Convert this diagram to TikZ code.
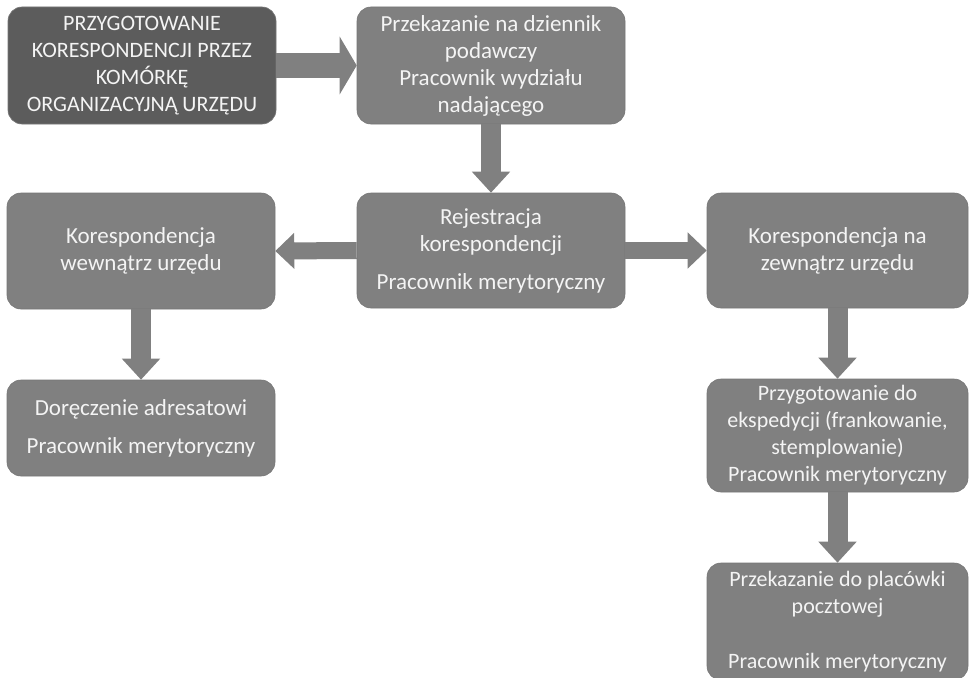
\documentclass[tikz,border=0pt]{standalone}
\usepackage{fontspec}
\setmainfont{Carlito}
\usetikzlibrary{arrows.meta}
\definecolor{boxgray}{HTML}{808080}
\definecolor{darkbox}{HTML}{5C5C5C}
\definecolor{edgegray}{HTML}{767676}
\definecolor{txt}{HTML}{F4F4F4}
\begin{document}
\begin{tikzpicture}[x=1pt,y=-1pt,
  box/.style={rectangle, rounded corners=14pt, fill=boxgray, draw=edgegray, line width=0.6pt,
    text=txt, align=center, inner sep=0pt,
    font=\fontsize{23}{27}\selectfont},
  smalltext/.style={font=\fontsize{22}{27}\selectfont},
  bigarr/.style={draw=boxgray, line width=25pt, -{Triangle[width=57pt,length=17pt]}},
  varr/.style={draw=boxgray, line width=20pt, -{Triangle[width=37pt,length=21pt]}},
  harr/.style={draw=boxgray, line width=17pt, -{Triangle[width=35pt,length=19pt]}}
]
\useasboundingbox (0,0) rectangle (971,677);
\fill[white] (0,0) rectangle (971,677);

\node[box, smalltext, fill=darkbox, minimum width=268pt, minimum height=117pt] (b1) at (142,65.5)
  {PRZYGOTOWANIE\\KORESPONDENCJI PRZEZ\\KOMÓRKĘ\\ORGANIZACYJNĄ URZĘDU};
\node[box, minimum width=268pt, minimum height=117pt] (b2) at (491,65.5)
  {Przekazanie na dziennik\\podawczy\\Pracownik wydziału\\nadającego};
\node[box, minimum width=268pt, minimum height=115pt] (b3) at (491,250.5)
  {Rejestracja\\korespondencji\\[11pt]Pracownik merytoryczny};
\node[box, minimum width=268pt, minimum height=116pt] (b4) at (141,251)
  {Korespondencja\\wewnątrz urzędu};
\node[box, minimum width=268pt, minimum height=96pt] (b5) at (141,428)
  {Doręczenie adresatowi\\[11pt]Pracownik merytoryczny};
\node[box, minimum width=261pt, minimum height=115pt] (b6) at (837.5,250.5)
  {Korespondencja na\\zewnątrz urzędu};
\node[box, smalltext, minimum width=261pt, minimum height=113pt] (b7) at (837.5,435.5)
  {Przygotowanie do\\ekspedycji (frankowanie,\\stemplowanie)\\Pracownik merytoryczny};
\node[box, smalltext, minimum width=261pt, minimum height=117pt] (b8) at (837.5,621.5)
  {Przekazanie do placówki\\pocztowej\\[28pt]Pracownik merytoryczny};

\draw[bigarr] (b1.east) -- (b2.west);
\draw[varr] (b2.south) -- (b3.north);
\draw[harr] (b3.west) -- (b4.east);
\draw[harr] (b3.east) -- (b6.west);
\draw[varr] (b4.south) -- (b5.north);
\draw[varr] (b6.south) -- (b7.north);
\draw[varr] (b7.south) -- (b8.north);
\end{tikzpicture}
\end{document}
